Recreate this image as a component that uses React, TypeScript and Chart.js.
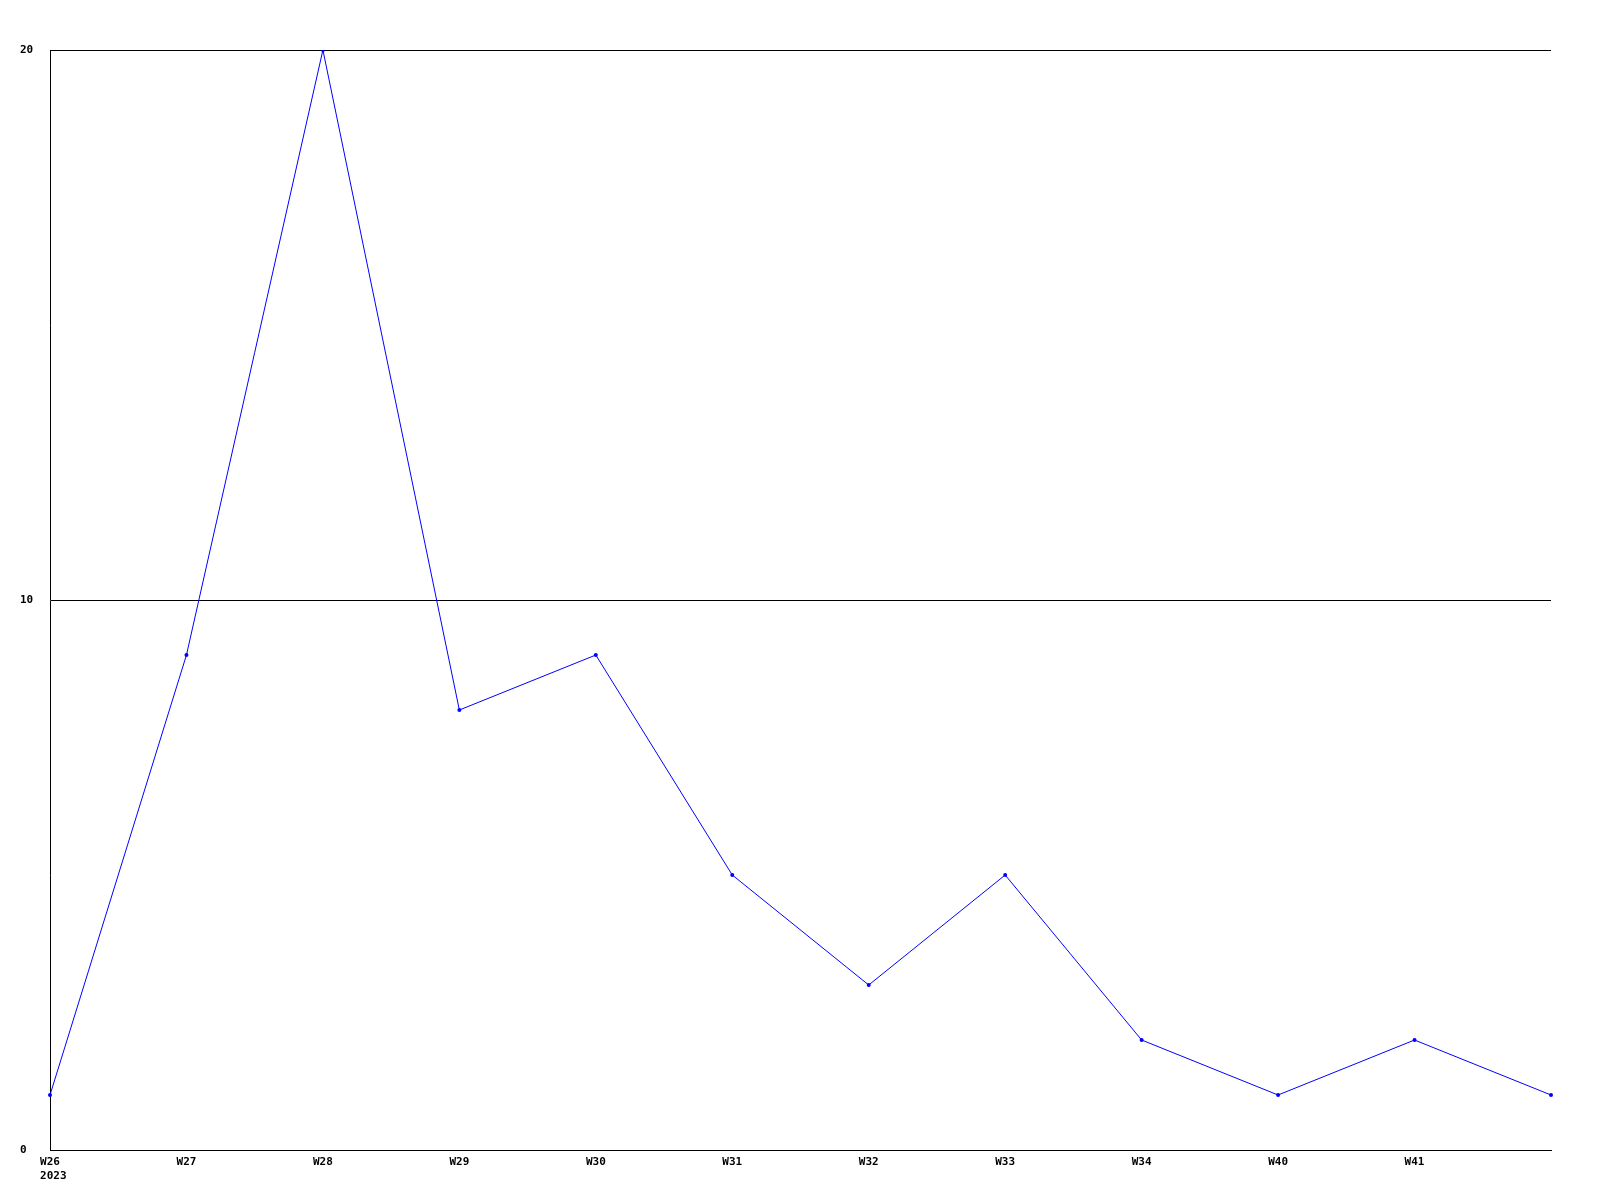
import React, { useEffect, useRef } from "react";
import { Chart, registerables } from "chart.js";

Chart.register(...registerables);

const weekLabels: (string | string[])[] = [
  ["W26", " 2023"], "W27", "W28", "W29", "W30", "W31", "W32", "W33", "W34", "W40", "W41", "",
];
const seriesValues: number[] = [1, 9, 20, 8, 9, 5, 3, 5, 2, 1, 2, 1];
const yTicks: number[] = [0, 10, 20];

const FONT = { family: "'DejaVu Sans Mono', monospace", size: 11, weight: "bold" as const, lineHeight: 1.3 };

export default function App() {
  const ref = useRef<HTMLCanvasElement | null>(null);
  useEffect(() => {
    if (!ref.current) return;
    const chart = new Chart(ref.current, {
      type: "line",
      data: {
        labels: weekLabels,
        datasets: [
          {
            data: seriesValues,
            borderColor: "#0000ff",
            backgroundColor: "#0000ff",
            borderWidth: 1,
            pointRadius: 2,
            pointHoverRadius: 2,
            pointBorderWidth: 0,
            tension: 0,
            fill: false,
          },
        ],
      },
      options: {
        animation: false,
        responsive: false,
        maintainAspectRatio: false,
        events: [],
        layout: { padding: { top: 50, right: 49, left: 20, bottom: 0 } },
        plugins: { legend: { display: false }, tooltip: { enabled: false } },
        scales: {
          x: {
            type: "category",
            offset: false,
            grid: { display: false, drawTicks: false },
            border: { display: true, color: "#000", width: 1 },
            ticks: {
              color: "#000",
              font: FONT,
              padding: 5,
              maxRotation: 0,
              autoSkip: false,
            },
            afterFit: (s: any) => {
              s.height = 50;
            },
          },
          y: {
            min: 0,
            max: 20,
            afterBuildTicks: (s: any) => {
              s.ticks = yTicks.map((v) => ({ value: v }));
            },
            grid: { display: true, color: "#000", lineWidth: 1, drawTicks: false },
            border: { display: true, color: "#000", width: 1 },
            ticks: { color: "#000", font: FONT, padding: 17, crossAlign: "far" },
            afterFit: (s: any) => {
              s.width = 30;
            },
          },
        },
      },
    });
    return () => chart.destroy();
  }, []);
  return (
    <div style={{ position: "fixed", left: 0, top: 0, width: 1600, height: 1200, background: "#fff" }}>
      <canvas ref={ref} width={1600} height={1200} style={{ width: 1600, height: 1200 }} />
    </div>
  );
}
